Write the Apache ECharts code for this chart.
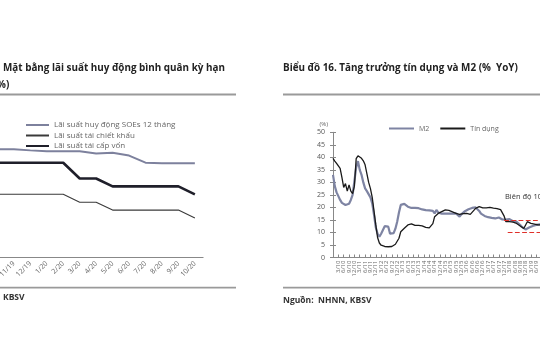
<!DOCTYPE html>
<html>
<head>
<meta charset="utf-8">
<script src="https://cdn.jsdelivr.net/npm/echarts@6/dist/echarts.min.js"></script>
<style>
html,body{margin:0;padding:0;background:#fff;overflow:hidden;width:540px;height:360px;position:relative;}
#c{position:absolute;left:-20px;top:0;width:580px;height:360px;}
</style>
</head>
<body>
<div id="c"></div>
<script>
// ---- Left chart data (Lãi suất, %) ----
var leftCats = ['10/19','11/19','12/19','1/20','2/20','3/20','4/20','5/20','6/20','7/20','8/20','9/20','10/20'];
var soeRate = [6.85,6.85,6.78,6.72,6.72,6.72,6.58,6.63,6.45,6.0,5.97,5.97,5.97];
var rediscountRate = [4,4,4,4,4,3.5,3.5,3.0,3.0,3.0,3.0,3.0,2.5];
var refinanceRate = [6,6,6,6,6,5,5,4.5,4.5,4.5,4.5,4.5,4.0];

// ---- Right chart data (% YoY), monthly from 12/09 ----
var rightStart = {m:12, y:2009};
var rightMonths = 118;
var creditGrowth = [39.6,38.5,37.6,37.0,35.6,32,28,29.5,26.5,29,26.5,25.5,28.5,39.5,40.6,40.2,39.6,38.6,37,33.5,
30,27.5,24,18.5,13,8,5.8,4.9,4.6,4.4,4.3,4.3,4.3,4.4,4.8,5.3,5.7,7.7,10.3,11,
11.7,12.3,13,13.2,13.4,13.2,12.8,12.6,12.8,12.3,12.6,12.1,12,12.4,11.8,11.4,13.5,16.3,17,17.6,
18,18.3,18.6,19,19.2,18.8,18.6,18.2,17.8,17.6,17.4,17.2,17.2,17.5,17.6,17.6,17.4,17.2,17.5,18.8,
19.6,20,20.3,20.1,19.8,19.6,19.8,20,20,19.8,19.7,19.6,19.5,19.3,19.1,18.9,16.5,14.3,14.4,14.3,
14.3,14.1,13.8,13.6,13.2,12.6,12.3,11.6,11,14.3,14,13.6,13.5,13.3,13.2,13,13,13];
var m2Growth = [33,28.5,26,24.5,23,21.8,21.2,21,20.6,21.5,23,25,25.6,36,38.5,35,33,30,27.6,26.5,
26,24,21.6,17,12,9.5,8.3,9.5,11,12.5,13,12.3,9.5,9,9.7,11.5,14.3,18,21,21.6,
21.4,21,20.3,20,19.8,19.6,19.8,20,19.7,19.6,19.2,18.7,18.9,19,18.8,18.7,18.6,17.6,19,18,
18,17.5,17.2,17.5,17.9,17.5,17.2,17.5,17.9,17.6,17,16.3,17.2,17.9,18.5,19,19.3,19.6,19.8,20,
20,19.5,18.6,17.5,17,16.6,16.3,16.1,15.9,15.8,15.7,15.6,15.8,16,15.5,15.2,15,15.1,15.6,15.3,
14.8,14.5,14.3,14.3,13.6,13,12.2,11.7,11.2,11.5,12,12.3,12.6,12.8,13,13,13.2,13.2];
var bandUpper = 15, bandLower = 10;

var rightCats = [];
(function(){
  var m = rightStart.m, y = rightStart.y;
  for (var i = 0; i < rightMonths; i++) {
    rightCats.push(m + '/' + String(y % 100).padStart(2,'0'));
    m++; if (m > 12) { m = 1; y++; }
  }
})();

var FONT = '"Open Sans", "Noto Sans", sans-serif';
var OX = 20; // container is shifted 20px left; chart coords = screen coords + OX
var chart = echarts.init(document.getElementById('c'), null, {renderer:'canvas'});

chart.setOption({
  backgroundColor: '#fff',
  animation: false,
  textStyle: {fontFamily: FONT},
  graphic: [
    {type:'text', left: 3+OX, top: 63, style:{text:'Mặt bằng lãi suất huy động bình quân kỳ hạn', font:'bold 9.9px ' + FONT, fill:'#222'}},
    {type:'text', left: -3+OX, top: 80, style:{text:'%)', font:'bold 9.9px ' + FONT, fill:'#222'}},
    {type:'line', shape:{x1:OX, y1:94.5, x2:236+OX, y2:94.5}, style:{stroke:'#9a9a9a', lineWidth:1.8}},
    {type:'line', shape:{x1:OX, y1:287.7, x2:236+OX, y2:287.7}, style:{stroke:'#9a9a9a', lineWidth:1.8}},
    {type:'text', left: 3+OX, top: 293, style:{text:'KBSV', font:'bold 8.5px ' + FONT, fill:'#333'}},

    {type:'text', left: 283+OX, top: 63, style:{text:'Biểu đồ 16. Tăng trưởng tín dụng và M2 (%  YoY)', font:'bold 9.9px ' + FONT, fill:'#222'}},
    {type:'line', shape:{x1:283+OX, y1:94.5, x2:540+OX, y2:94.5}, style:{stroke:'#9a9a9a', lineWidth:1.8}},
    {type:'line', shape:{x1:283+OX, y1:287.7, x2:540+OX, y2:287.7}, style:{stroke:'#9a9a9a', lineWidth:1.8}},
    {type:'text', left: 283+OX, top: 296, style:{text:'Nguồn:  NHNN, KBSV', font:'bold 8.5px ' + FONT, fill:'#333'}},
    {type:'text', left: 505+OX, top: 193, style:{text:'Biên độ 10-15%', font:'7.5px ' + FONT, fill:'#333'}}
  ],
  legend: [
    {
      orient:'vertical', left: 25+OX, top: 121, itemWidth: 23, itemHeight: 8, itemGap: 2.5, padding: 0,
      itemStyle:{opacity:0},
      data:['Lãi suất huy động SOEs 12 tháng','Lãi suất tái chiết khấu','Lãi suất tái cấp vốn'],
      textStyle:{fontSize: 8, color:'#666', fontFamily: FONT}
    },
    {
      orient:'horizontal', left: 388+OX, top: 125, itemWidth: 25, itemHeight: 8, itemGap: 10, padding: 0,
      itemStyle:{opacity:0},
      data:['M2','Tín dụng'],
      textStyle:{fontSize: 7, color:'#666', fontFamily: FONT}
    }
  ],
  grid: [
    {left: 0.8, right: 356.9, top: 131.1, bottom: 102.5, containLabel: false},
    {left: 353, right: 18.4, top: 132.3, bottom: 102.5, containLabel: false}
  ],
  xAxis: [
    {
      type:'category', gridIndex:0, data:leftCats, boundaryGap:true,
      axisLine:{lineStyle:{color:'#888', width:1}},
      axisTick:{inside:true, length:3, lineStyle:{color:'#888'}},
      axisLabel:{interval:0, rotate:45, fontSize:7, color:'#666', margin:5, fontFamily: FONT},
      splitLine:{show:false}
    },
    {
      type:'category', gridIndex:1, data:rightCats, boundaryGap:false,
      axisLine:{lineStyle:{color:'#888', width:1}},
      axisTick:{interval:2, inside:true, length:3, lineStyle:{color:'#888'}},
      axisLabel:{interval:2, rotate:90, fontSize:6, color:'#666', margin:3, fontFamily: FONT},
      splitLine:{show:false}
    }
  ],
  yAxis: [
    {type:'value', gridIndex:0, min:0, max:8, show:false},
    {
      type:'value', gridIndex:1, min:0, max:50, interval:5,
      name:'(%)', nameLocation:'end', nameGap:5,
      nameTextStyle:{fontSize:6, color:'#666', align:'right', padding:[0,5,0,0]},
      axisLine:{show:true, lineStyle:{color:'#888'}},
      axisTick:{show:true, length:3, lineStyle:{color:'#888'}},
      axisLabel:{fontSize:7, color:'#555', margin:8, fontFamily: FONT},
      splitLine:{show:false}
    },
    {
      type:'value', gridIndex:1, min:0, max:50, interval:5, position:'left',
      axisLine:{show:false}, axisLabel:{show:false}, splitLine:{show:false},
      axisTick:{show:true, inside:true, length:3, lineStyle:{color:'#888'}}
    }
  ],
  series: [
    {name:'Lãi suất huy động SOEs 12 tháng', type:'line', xAxisIndex:0, yAxisIndex:0, data:soeRate,
     symbol:'none', lineStyle:{color:'#7d819d', width:2}, itemStyle:{color:'#7d819d'}},
    {name:'Lãi suất tái chiết khấu', type:'line', xAxisIndex:0, yAxisIndex:0, data:rediscountRate,
     symbol:'none', lineStyle:{color:'#3a3a3a', width:1.1}, itemStyle:{color:'#3a3a3a'}},
    {name:'Lãi suất tái cấp vốn', type:'line', xAxisIndex:0, yAxisIndex:0, data:refinanceRate,
     symbol:'none', lineStyle:{color:'#1f1f2a', width:2.6}, itemStyle:{color:'#1f1f2a'}},
    {name:'M2', type:'line', xAxisIndex:1, yAxisIndex:1, data:m2Growth,
     symbol:'none', lineStyle:{color:'#7e84a3', width:2.2}, itemStyle:{color:'#7e84a3'}},
    {name:'Tín dụng', type:'line', xAxisIndex:1, yAxisIndex:1, data:creditGrowth,
     symbol:'none', lineStyle:{color:'#1a1a1a', width:1.3}, itemStyle:{color:'#1a1a1a'},
     markLine:{silent:true, symbol:'none', label:{show:false},
       lineStyle:{color:'#e0302a', type:'dashed', width:1.2},
       data:[
         [{coord:['12/17', bandUpper]}, {coord:['9/19', bandUpper]}],
         [{coord:['2/18', bandLower]}, {coord:['9/19', bandLower]}]
       ]}
    }
  ]
});
</script>
</body>
</html>
